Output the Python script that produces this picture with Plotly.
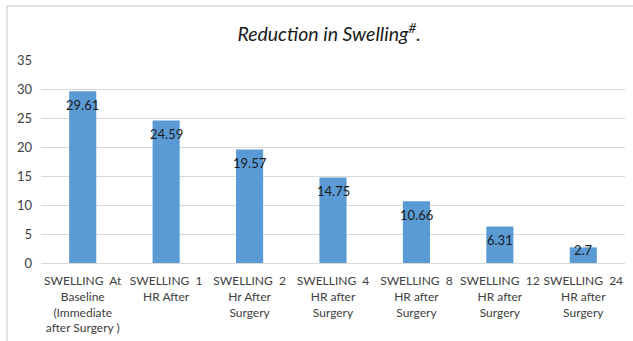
import plotly.graph_objects as go

categories = [
    "SWELLING&nbsp; At<br>Baseline<br>(Immediate<br>after Surgery )",
    "SWELLING&nbsp; 1<br>HR After",
    "SWELLING&nbsp; 2<br>Hr After<br>Surgery",
    "SWELLING&nbsp; 4<br>HR after<br>Surgery",
    "SWELLING&nbsp; 8<br>HR after<br>Surgery",
    "SWELLING&nbsp; 12<br>HR after<br>Surgery",
    "SWELLING&nbsp; 24<br>HR after<br>Surgery",
]
swelling = [29.61, 24.59, 19.57, 14.75, 10.66, 6.31, 2.7]
y_ticks = [0, 5, 10, 15, 20, 25, 30, 35]

W, H = 633, 341
ml, mr, mt, mb = 41, 8, 60, 78
pw, ph = W - ml - mr, H - mt - mb
y_max = 35

font_family = "Lato, 'Open Sans', sans-serif"

fig = go.Figure(
    go.Bar(
        x=categories,
        y=swelling,
        marker=dict(color="#5B9BD5", line=dict(width=0)),
        hoverinfo="skip",
    )
)

# value labels inside the top of each bar; short bars keep the label near their top edge
for cat, val in zip(categories, swelling):
    bar_px = val / y_max * ph
    short = bar_px < 24
    fig.add_annotation(
        x=cat,
        y=val,
        text=str(val),
        showarrow=False,
        yanchor="middle" if short else "top",
        yshift=-3 if short else -4,
        font=dict(family=font_family, size=13, color="#1a1a1a"),
    )

fig.update_layout(
    width=W,
    height=H,
    margin=dict(l=ml, r=mr, t=mt, b=mb, autoexpand=False),
    paper_bgcolor="white",
    plot_bgcolor="white",
    bargap=0.675,
    showlegend=False,
    font=dict(family=font_family, size=12, color="#404040"),
    title=dict(
        text="<i>Reduction in Swelling<sup>#</sup>.</i>",
        x=0.52,
        xanchor="center",
        y=1 - 34 / H,
        yanchor="middle",
        font=dict(family=font_family, size=19.5, color="#1a1a1a"),
    ),
    xaxis=dict(
        showgrid=False,
        showline=True,
        linecolor="#d9d9d9",
        linewidth=1,
        ticks="",
        tickangle=0,
        automargin=False,
        ticklabelstandoff=7,
        tickfont=dict(size=12, color="#404040"),
        fixedrange=True,
    ),
    yaxis=dict(
        range=[0, y_max],
        tickvals=y_ticks,
        showgrid=True,
        gridcolor="#d9d9d9",
        gridwidth=1,
        zeroline=False,
        showline=False,
        ticks="",
        automargin=False,
        ticklabelstandoff=8,
        tickfont=dict(size=13, color="#404040"),
        fixedrange=True,
    ),
    shapes=[
        dict(
            type="rect",
            xref="paper",
            yref="paper",
            x0=(7 - ml) / pw,
            x1=(W + 20 - ml) / pw,
            y0=-(H + 20 - (H - mb)) / ph,
            y1=1 + (mt - 6) / ph,
            line=dict(color="#d9d9d9", width=1.5),
            layer="below",
        )
    ],
)

fig.write_html("out.html")
